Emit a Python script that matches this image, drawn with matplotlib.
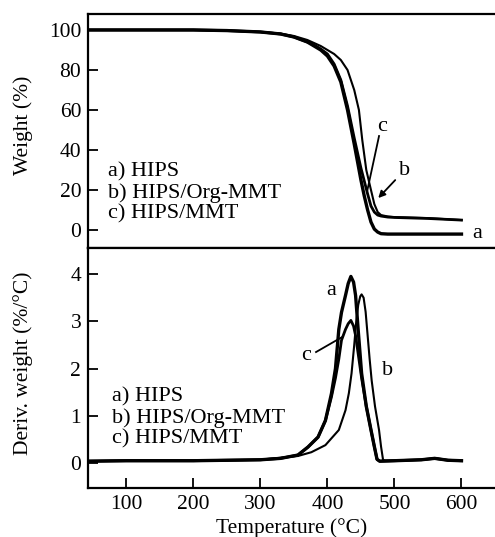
import matplotlib.pyplot as plt
import numpy as np

plt.rcParams['font.family'] = ['Liberation Serif', 'DejaVu Serif']
plt.rcParams['font.size'] = 15.5

# TGA weight curves (temperature in C, weight in %)
t_a = [40, 100, 200, 250, 300, 330, 350, 370, 380, 390, 400, 410, 420, 430, 440,
       450, 455, 460, 465, 470, 475, 480, 490, 500, 550, 600]
w_a = [100, 100, 100, 99.7, 99, 98, 96.5, 94, 92, 90, 87, 82, 74, 60, 43,
       25, 17, 10, 4, 0.5, -1, -1.8, -2, -2, -2, -2]

t_b = [40, 100, 200, 250, 300, 330, 350, 370, 380, 390, 400, 410, 420, 430, 440,
       447, 452, 458, 465, 470, 475, 480, 490, 500, 550, 600]
w_b = [100, 100, 100, 99.7, 99, 98.2, 97, 95, 93.5, 92, 90, 88, 85, 80, 70,
       60, 45, 30, 20, 13, 9, 7.5, 6.8, 6.5, 6, 5]

t_c = [40, 100, 200, 250, 300, 330, 350, 370, 380, 390, 400, 410, 420, 430, 440,
       450, 460, 465, 470, 475, 480, 490, 500, 550, 600]
w_c = [100, 100, 100, 99.7, 99, 98, 96.5, 94, 92.5, 90.5, 88, 83, 75, 62, 46,
       31, 18, 12, 9, 7.5, 7, 6.5, 6.3, 5.8, 5]

# DTG curves (%/C)
dt_a = [40, 100, 200, 300, 330, 356, 371, 386, 397, 406, 412, 417, 421, 427, 431,
        435, 439, 442, 446, 451, 458, 465, 470, 474, 478, 500, 540, 560, 580, 600]
d_a = [0.04, 0.05, 0.05, 0.07, 0.1, 0.17, 0.34, 0.55, 0.9, 1.47, 2.0, 2.83, 3.19,
       3.55, 3.8, 3.95, 3.83, 3.55, 2.8, 1.9, 1.2, 0.7, 0.35, 0.08, 0.04,
       0.05, 0.07, 0.1, 0.06, 0.05]

dt_b = [40, 100, 200, 300, 356, 376, 397, 417, 427, 432, 436, 440, 443, 446, 449,
        451, 454, 457, 460, 463, 466, 471, 477, 480, 483, 486, 500, 540, 560,
        580, 600]
d_b = [0.04, 0.05, 0.05, 0.07, 0.15, 0.23, 0.38, 0.7, 1.12, 1.48, 1.9, 2.5, 3.0,
       3.35, 3.53, 3.57, 3.5, 3.2, 2.7, 2.2, 1.75, 1.2, 0.7, 0.35, 0.07, 0.05,
       0.05, 0.07, 0.1, 0.06, 0.05]

dt_c = [40, 100, 200, 300, 330, 356, 371, 386, 397, 406, 412, 417, 421, 427, 431,
        435, 439, 442, 446, 451, 458, 465, 470, 474, 478, 500, 540, 560, 580, 600]
d_c = [0.04, 0.05, 0.05, 0.07, 0.1, 0.17, 0.34, 0.55, 0.9, 1.4, 1.8, 2.2, 2.6,
       2.83, 2.95, 3.02, 2.9, 2.7, 2.3, 1.8, 1.2, 0.7, 0.35, 0.08, 0.04,
       0.05, 0.07, 0.1, 0.06, 0.05]

legend_lines = ['a) HIPS', 'b) HIPS/Org-MMT', 'c) HIPS/MMT']
x_ticks = [100, 200, 300, 400, 500, 600]

fig = plt.figure(figsize=(4.95, 5.37), dpi=100)
ax1 = fig.add_axes([0.178, 0.538, 0.822, 0.436])
ax2 = fig.add_axes([0.178, 0.091, 0.822, 0.447])

for ax in (ax1, ax2):
    ax.set_xlim(43, 650)
    ax.set_xticks(x_ticks)
    ax.tick_params(direction='in', length=7, width=1.3, labelsize=15.5, pad=5)
    for s in ax.spines.values():
        s.set_linewidth(1.6)
    ax.spines['right'].set_visible(False)

# top: weight
ax1.plot(t_a, w_a, color='black', lw=2.4)
ax1.plot(t_c, w_c, color='black', lw=2.0)
ax1.plot(t_b, w_b, color='black', lw=1.5)
ax1.set_ylim(-9, 108)
ax1.set_yticks([0, 20, 40, 60, 80, 100])
ax1.tick_params(axis='x', bottom=False, labelbottom=False)
fig.text(23 / 495, 0.767, 'Weight (%)', rotation=90, ha='center', va='center',
         fontsize=15.5)
for i, s in enumerate(legend_lines):
    ax1.text(0.05, 0.325 - i * 0.09, s, transform=ax1.transAxes,
             fontsize=16, va='center', ha='left')
ax1.text(482, 52, 'c', fontsize=16, ha='center', va='center')
ax1.plot([477, 459], [47, 19], color='black', lw=1.3)
ax1.text(515, 30, 'b', fontsize=16, ha='center', va='center')
ax1.annotate('', xy=(473, 15), xytext=(504, 26),
             arrowprops=dict(arrowstyle='-|>', color='black', lw=1.3,
                             mutation_scale=10))
ax1.text(624, -1.5, 'a', fontsize=16, ha='center', va='center')

# bottom: derivative
ax2.plot(dt_a, d_a, color='black', lw=2.4)
ax2.plot(dt_c, d_c, color='black', lw=2.0)
ax2.plot(dt_b, d_b, color='black', lw=1.5)
ax2.set_ylim(-0.53, 4.55)
ax2.set_yticks([0, 1, 2, 3, 4])
ax2.set_xlabel('Temperature (\u00b0C)', fontsize=15.5, labelpad=3)
fig.text(23 / 495, 0.324, 'Deriv. weight (%/\u00b0C)', rotation=90,
         ha='center', va='center', fontsize=15.5)
for i, s in enumerate(legend_lines):
    ax2.text(0.059, 0.38 - i * 0.0875, s, transform=ax2.transAxes,
             fontsize=16, va='center', ha='left')
ax2.text(406, 3.66, 'a', fontsize=16, ha='center', va='center')
ax2.text(368, 2.28, 'c', fontsize=16, ha='center', va='center')
ax2.plot([383, 421], [2.35, 2.66], color='black', lw=1.3)
ax2.text(489, 1.97, 'b', fontsize=16, ha='center', va='center')

fig.savefig('out.png', dpi=100)
